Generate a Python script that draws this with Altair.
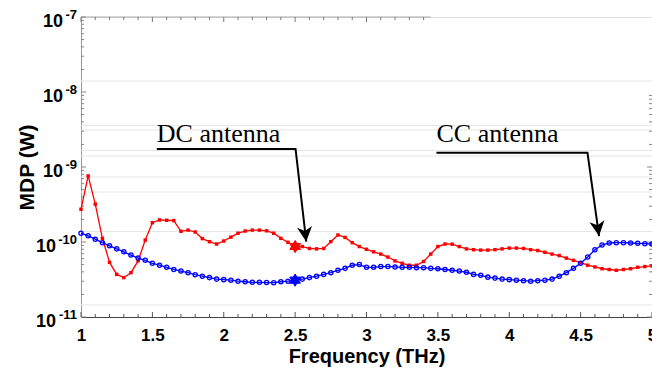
import altair as alt
import pandas as pd

# ---------------- data ----------------
freq = [1.00, 1.05, 1.10, 1.15, 1.20, 1.25, 1.30, 1.35, 1.40, 1.45,
        1.50, 1.55, 1.60, 1.65, 1.70, 1.75, 1.80, 1.85, 1.90, 1.95,
        2.00, 2.05, 2.10, 2.15, 2.20, 2.25, 2.30, 2.35, 2.40, 2.45,
        2.50, 2.55, 2.60, 2.65, 2.70, 2.75, 2.80, 2.85, 2.90, 2.95,
        3.00, 3.05, 3.10, 3.15, 3.20, 3.25, 3.30, 3.35, 3.40, 3.45,
        3.50, 3.55, 3.60, 3.65, 3.70, 3.75, 3.80, 3.85, 3.90, 3.95,
        4.00, 4.05, 4.10, 4.15, 4.20, 4.25, 4.30, 4.35, 4.40, 4.45,
        4.50, 4.55, 4.60, 4.65, 4.70, 4.75, 4.80, 4.85, 4.90, 4.95,
        5.00]

dc_mdp = [2.73e-10, 7.6e-10, 3.2e-10, 1.12e-10, 5.35e-11, 3.7e-11, 3.35e-11, 3.9e-11, 5.6e-11, 1.06e-10,
          1.81e-10, 1.97e-10, 1.95e-10, 1.93e-10, 1.39e-10, 1.44e-10, 1.36e-10, 1.11e-10, 1.01e-10, 9.4e-11,
          1.03e-10, 1.16e-10, 1.31e-10, 1.40e-10, 1.44e-10, 1.44e-10, 1.41e-10, 1.31e-10, 1.12e-10, 9.9e-11,
          8.7e-11, 8.7e-11, 8.2e-11, 8.1e-11, 8.2e-11, 1.01e-10, 1.24e-10, 1.15e-10, 9.8e-11, 8.7e-11,
          8.0e-11, 7.4e-11, 6.9e-11, 6.3e-11, 5.6e-11, 5.2e-11, 4.9e-11, 4.9e-11, 5.5e-11, 6.9e-11,
          8.7e-11, 9.4e-11, 9.35e-11, 8.7e-11, 8.1e-11, 7.9e-11, 7.8e-11, 7.8e-11, 7.9e-11, 8.1e-11,
          8.3e-11, 8.3e-11, 8.2e-11, 7.9e-11, 7.7e-11, 7.3e-11, 6.9e-11, 6.6e-11, 6.1e-11, 5.7e-11,
          5.3e-11, 4.9e-11, 4.65e-11, 4.4e-11, 4.3e-11, 4.2e-11, 4.3e-11, 4.4e-11, 4.6e-11, 4.7e-11,
          4.8e-11]

cc_mdp = [1.31e-10, 1.21e-10, 1.09e-10, 9.8e-11, 8.9e-11, 8.1e-11, 7.4e-11, 6.7e-11, 6.1e-11, 5.7e-11,
          5.2e-11, 4.9e-11, 4.6e-11, 4.3e-11, 4.1e-11, 3.9e-11, 3.67e-11, 3.5e-11, 3.35e-11, 3.2e-11,
          3.15e-11, 3.1e-11, 3.0e-11, 2.95e-11, 2.9e-11, 2.9e-11, 2.88e-11, 2.87e-11, 2.95e-11, 3.0e-11,
          3.1e-11, 3.2e-11, 3.35e-11, 3.5e-11, 3.7e-11, 3.9e-11, 4.2e-11, 4.45e-11, 4.9e-11, 5.0e-11,
          4.6e-11, 4.6e-11, 4.7e-11, 4.7e-11, 4.65e-11, 4.6e-11, 4.6e-11, 4.55e-11, 4.55e-11, 4.45e-11,
          4.4e-11, 4.3e-11, 4.2e-11, 4.1e-11, 3.95e-11, 3.7e-11, 3.6e-11, 3.4e-11, 3.3e-11, 3.2e-11,
          3.15e-11, 3.1e-11, 3.05e-11, 3.0e-11, 3.05e-11, 3.1e-11, 3.2e-11, 3.5e-11, 3.9e-11, 4.45e-11,
          5.2e-11, 6.3e-11, 7.9e-11, 9.1e-11, 9.7e-11, 9.8e-11, 9.8e-11, 9.7e-11, 9.6e-11, 9.5e-11,
          9.4e-11]

# highlighted (star) samples
star_freq = [2.5, 2.5]
star_mdp = [8.7e-11, 3.1e-11]
star_color = ["#ff0000", "#0000ff"]

# annotations: label, text anchor, underline start/corner, arrow tip
ann_label = ["DC antenna", "CC antenna"]
ann_text_x = [1.531, 3.49]
ann_text_y = [2.17e-9, 2.17e-9]
ann_under_x0 = [1.531, 3.49]
ann_under_x1 = [2.503, 4.548]
ann_under_y = [1.74e-9, 1.55e-9]
ann_tip_x = [2.578, 4.629]
ann_tip_y = [1.01e-10, 1.2e-10]
ann_angle = [353.4, 352.0]

# axis ticks / labels
x_tick_values = [1, 1.5, 2, 2.5, 3, 3.5, 4, 4.5, 5]
x_minor_values = [1.1, 1.2, 1.3, 1.4, 1.6, 1.7, 1.8, 1.9, 2.1, 2.2, 2.3, 2.4,
                  2.6, 2.7, 2.8, 2.9, 3.1, 3.2, 3.3, 3.4, 3.6, 3.7, 3.8, 3.9,
                  4.1, 4.2, 4.3, 4.4, 4.6, 4.7, 4.8, 4.9]
y_decades = [1e-7, 1e-8, 1e-9, 1e-10, 1e-11]
y_exponents = ["-7", "-8", "-9", "-10", "-11"]
y_minor_mult = [2, 3, 4, 5, 6, 7, 8, 9]
grid_values = [1.40e-8, 3.57e-9, 3.11e-9, 1.66e-9, 1.40e-9, 7.36e-10, 4.64e-10, 1.38e-10, 1.45e-11]
top_border_end = 3.45

# ---------------- tables ----------------
series = pd.DataFrame({
    "freq": freq * 2,
    "mdp": dc_mdp + cc_mdp,
    "ant": ["DC"] * len(freq) + ["CC"] * len(freq),
})
dc_df = series[series.ant == "DC"]
cc_df = series[series.ant == "CC"]
stars = pd.DataFrame({"freq": star_freq, "mdp": star_mdp, "c": star_color})

ann_lines = []
for i, lab in enumerate(ann_label):
    ann_lines += [
        {"g": lab, "o": 0, "x": ann_under_x0[i], "y": ann_under_y[i]},
        {"g": lab, "o": 1, "x": ann_under_x1[i], "y": ann_under_y[i]},
        {"g": lab, "o": 2, "x": ann_tip_x[i], "y": ann_tip_y[i]},
    ]
ann_lines = pd.DataFrame(ann_lines)
ann_text = pd.DataFrame({"label": ann_label, "x": ann_text_x, "y": ann_text_y})
ann_heads = pd.DataFrame({"x": ann_tip_x, "y": ann_tip_y, "a": ann_angle})

ylab = pd.DataFrame({"v": y_decades, "e": y_exponents, "n": [len(e) for e in y_exponents]})
yminor = pd.DataFrame({"v": [m * d for d in y_decades[1:] for m in y_minor_mult]})
ymajor = pd.DataFrame({"v": y_decades})
xmaj = pd.DataFrame({"f": x_tick_values})
xmin = pd.DataFrame({"f": x_minor_values})
grid = pd.DataFrame({"v": grid_values})

W, H = 571, 300
XS = alt.Scale(domain=[1, 5], nice=False, zero=False)
YS = alt.Scale(type="log", domain=[1e-11, 1e-7], nice=False)
BOLD = "Liberation Sans"

xenc = alt.X("freq:Q", scale=XS,
             axis=alt.Axis(values=x_tick_values, format="~g", title="Frequency (THz)",
                           labelFont=BOLD, labelFontWeight="bold", labelFontSize=17,
                           labelColor="#000", labelFlush=False, labelOverlap=False,
                           labelPadding=10, ticks=False, tickSize=0, grid=False,
                           domainColor="#444", domainWidth=1,
                           titleFont=BOLD, titleFontWeight="bold", titleFontSize=20,
                           titleColor="#000", titlePadding=3))
yenc = alt.Y("mdp:Q", scale=YS,
             axis=alt.Axis(labels=False, ticks=False, tickSize=0, grid=False,
                           domainColor="#999", domainWidth=1, title="MDP (W)",
                           titleFont=BOLD, titleFontWeight="bold", titleFontSize=21,
                           titleColor="#000", titleX=-54, titleY=150, titleAngle=270,
                           titleAlign="center", titleBaseline="middle"))

gridlines = alt.Chart(grid).mark_rule(color="#e6e6e6", strokeWidth=1).encode(
    y=alt.Y("v:Q", scale=YS), x=alt.value(0), x2=alt.value(W))

top_border = alt.Chart(pd.DataFrame({"a": [1], "b": [top_border_end]})).mark_rule(
    color="#aaa", strokeWidth=1).encode(
    x=alt.X("a:Q", scale=XS), x2="b:Q", y=alt.value(0))

def xticks(df, ln, top=False):
    d = df if not top else df[df.f <= top_border_end]
    if top:
        return alt.Chart(d).mark_rule(color="#777", strokeWidth=1).encode(
            x=alt.X("f:Q", scale=XS), y=alt.value(0), y2=alt.value(ln))
    return alt.Chart(d).mark_rule(color="#555", strokeWidth=1).encode(
        x=alt.X("f:Q", scale=XS), y=alt.value(H), y2=alt.value(H - ln))

def yticks(df, ln, right=False):
    if right:
        d = df[df.v < 1e-8]
        return alt.Chart(d).mark_rule(color="#888", strokeWidth=1).encode(
            y=alt.Y("v:Q", scale=YS), x=alt.value(W), x2=alt.value(W - ln))
    return alt.Chart(df).mark_rule(color="#888", strokeWidth=1).encode(
        y=alt.Y("v:Q", scale=YS), x=alt.value(0), x2=alt.value(ln))

tick_layers = [xticks(xmaj, 5), xticks(xmin, 3), xticks(xmaj, 5, True), xticks(xmin, 3, True),
               yticks(ymajor, 5), yticks(yminor, 3), yticks(ymajor, 5, True), yticks(yminor, 3, True)]

base10_1 = alt.Chart(ylab[ylab.n == 2]).mark_text(
    font=BOLD, fontWeight="bold", fontSize=18, align="right", baseline="alphabetic",
    dy=10, color="#000").encode(y=alt.Y("v:Q", scale=YS), x=alt.value(-18), text=alt.value("10"))
base10_2 = alt.Chart(ylab[ylab.n == 3]).mark_text(
    font=BOLD, fontWeight="bold", fontSize=18, align="right", baseline="alphabetic",
    dy=10, color="#000").encode(y=alt.Y("v:Q", scale=YS), x=alt.value(-25), text=alt.value("10"))
expo = alt.Chart(ylab).mark_text(
    font=BOLD, fontWeight="bold", fontSize=13, align="right", baseline="alphabetic",
    dy=2, color="#000").encode(y=alt.Y("v:Q", scale=YS), x=alt.value(-4), text="e:N")

dc_line = alt.Chart(dc_df).mark_line(color="#ff0000", strokeWidth=1.3).encode(x=xenc, y=yenc)
dc_pts = alt.Chart(dc_df).mark_point(shape="square", filled=True, color="#ff0000", size=12,
                                     opacity=1).encode(x=alt.X("freq:Q", scale=XS), y=alt.Y("mdp:Q", scale=YS))
cc_line = alt.Chart(cc_df).mark_line(color="#0000ff", strokeWidth=1.3).encode(
    x=alt.X("freq:Q", scale=XS), y=alt.Y("mdp:Q", scale=YS))
cc_pts = alt.Chart(cc_df).mark_point(shape="circle", filled=False, color="#0000ff", size=18,
                                     strokeWidth=1.3, opacity=1).encode(
    x=alt.X("freq:Q", scale=XS), y=alt.Y("mdp:Q", scale=YS))

HEX = "M0,-1L0.866,0.5L-0.866,0.5Z M0,1L-0.866,-0.5L0.866,-0.5Z"
star_pts = alt.Chart(stars).mark_point(shape=HEX, filled=True, size=150, opacity=1,
                                       strokeWidth=1).encode(
    x=alt.X("freq:Q", scale=XS), y=alt.Y("mdp:Q", scale=YS),
    fill=alt.Fill("c:N", scale=None), stroke=alt.Stroke("c:N", scale=None))

arrow_lines = alt.Chart(ann_lines).mark_line(color="#000", strokeWidth=2).encode(
    x=alt.X("x:Q", scale=XS), y=alt.Y("y:Q", scale=YS), detail="g:N", order="o:Q")
HEAD = "M0,0L-0.5,-1L0,-0.72L0.5,-1Z"
heads = [alt.Chart(ann_heads.iloc[[i]]).mark_point(
    shape=HEAD, filled=True, color="#000", size=900, opacity=1, angle=float(ann_angle[i])).encode(
    x=alt.X("x:Q", scale=XS), y=alt.Y("y:Q", scale=YS)) for i in range(len(ann_label))]
ann_txt = alt.Chart(ann_text).mark_text(
    font="Liberation Serif", fontSize=26, align="left", baseline="alphabetic", color="#000").encode(
    x=alt.X("x:Q", scale=XS), y=alt.Y("y:Q", scale=YS), text="label:N")

chart = alt.layer(
    gridlines, top_border, *tick_layers,
    dc_line, cc_line, dc_pts, cc_pts, star_pts,
    arrow_lines, *heads, ann_txt,
    base10_1, base10_2, expo,
).properties(
    width=W, height=H,
    padding={"left": 81, "top": 17, "right": 0, "bottom": 55},
    autosize=alt.AutoSizeParams(type="none"),
).configure_view(stroke=None).configure(background="white")

chart.save("out.html", embed_options={"renderer": "svg", "actions": False})
